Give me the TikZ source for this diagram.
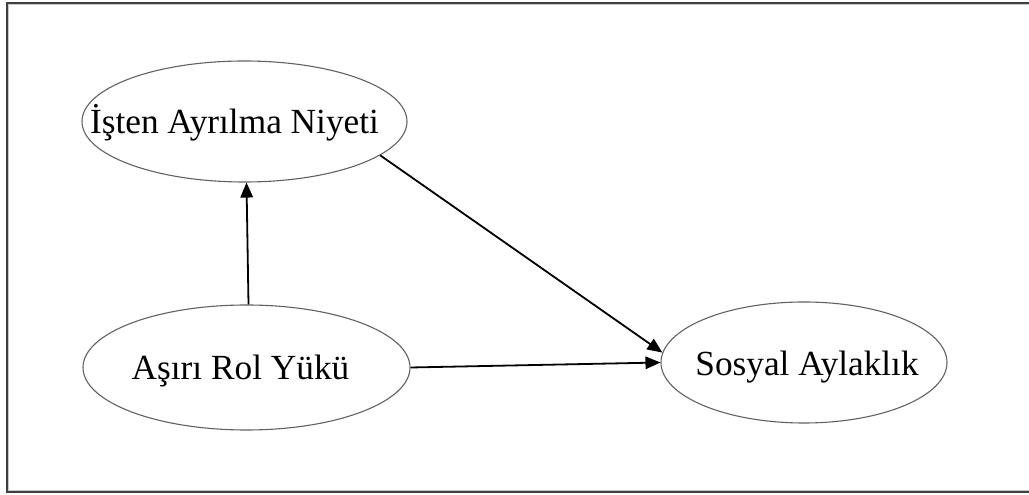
\documentclass[tikz,border=0pt]{standalone}
\usepackage{fontspec}
\setmainfont{Liberation Serif}
\usetikzlibrary{shapes.geometric,arrows.meta}

\tikzset{
  construct/.style={ellipse, draw=black!62, line width=1.1pt, inner sep=0pt},
  label text/.style={anchor=base, inner sep=0pt, font=\fontsize{35.3}{40}\selectfont},
  path arrow/.style={line width=1.8pt, -{Triangle[length=15pt,width=12.5pt]}},
  frame dark/.style={draw=black!75, line width=2pt},
  frame light/.style={draw=black!22, line width=1pt}
}

\begin{document}
\begin{tikzpicture}[x=1pt,y=1pt]
  \useasboundingbox (0,0) rectangle (1029,495);

  % open frame (right side runs off the page)
  \draw[frame dark] (1035,492) -- (7,492) -- (7,2.5) -- (1035,2.5);
  \draw[frame light] (1035,490.3) -- (8.7,490.3) -- (8.7,4.2) -- (1035,4.2);

  % constructs
  \node[construct, minimum width=325, minimum height=121] (isten) at (244.5,373.5) {};
  \node[construct, minimum width=327, minimum height=125] (asiri) at (246.5,127.5) {};
  \node[construct, minimum width=286, minimum height=121] (sosyal) at (804,132.5) {};

  \node[label text] (istenT) at ([xshift=-10pt,yshift=-12.5pt]isten.center) {İşten Ayrılma Niyeti};
  \node[label text] (asiriT) at ([xshift=-6pt,yshift=-12.5pt]asiri.center) {Aşırı Rol Yükü};
  \node[label text] (sosyalT) at ([xshift=3pt,yshift=-13.5pt]sosyal.center) {Sosyal Aylaklık};

  % paths
  \draw[path arrow] ([xshift=2pt]asiri.north) -- ([xshift=2pt]isten.south);
  \draw[path arrow] (asiri.east) -- (sosyal.west);
  \draw[path arrow] (isten.-14) -- (sosyal.176);
\end{tikzpicture}
\end{document}
